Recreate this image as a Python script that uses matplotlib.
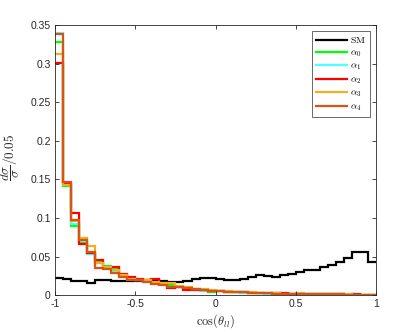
import matplotlib
matplotlib.use('Agg')
import matplotlib.pyplot as plt
import numpy as np

# histogram bins of cos(theta_ll), width 0.05
bin_edges = np.linspace(-1, 1, 41)

sm = [0.0224, 0.0207, 0.0180, 0.0178, 0.0160, 0.0198, 0.0190, 0.0185, 0.0178, 0.0180,
      0.0185, 0.0195, 0.0200, 0.0187, 0.0174, 0.0174, 0.0187, 0.0213, 0.0220, 0.0220,
      0.0213, 0.0200, 0.0196, 0.0213, 0.0235, 0.0257, 0.0248, 0.0230, 0.0260, 0.0270,
      0.0300, 0.0320, 0.0326, 0.0360, 0.0387, 0.0435, 0.0478, 0.0557, 0.0565, 0.0430]

alpha0 = [0.328, 0.142, 0.090, 0.069, 0.053, 0.044, 0.038, 0.035, 0.026, 0.021,
          0.020, 0.018, 0.016, 0.015, 0.013, 0.011, 0.008, 0.0075, 0.006, 0.0035,
          0.005, 0.004, 0.0045, 0.003, 0.003, 0.0025, 0.002, 0.003, 0.002, 0.0015,
          0.002, 0.0015, 0.0012, 0.0015, 0.001, 0.0012, 0.0008, 0.0006, 0.0004, 0.0006]

alpha1 = [0.339, 0.143, 0.092, 0.070, 0.053, 0.041, 0.036, 0.031, 0.028, 0.022,
          0.019, 0.018, 0.015, 0.014, 0.010, 0.010, 0.008, 0.007, 0.006, 0.005,
          0.005, 0.0045, 0.0035, 0.003, 0.0025, 0.003, 0.002, 0.0025, 0.002, 0.0018,
          0.0015, 0.002, 0.0012, 0.001, 0.0012, 0.001, 0.0008, 0.0007, 0.0005, 0.0004]

alpha2 = [0.301, 0.145, 0.107, 0.066, 0.055, 0.046, 0.037, 0.036, 0.027, 0.023,
          0.021, 0.020, 0.021, 0.016, 0.009, 0.010, 0.0065, 0.007, 0.0065, 0.006,
          0.005, 0.004, 0.004, 0.0035, 0.003, 0.003, 0.0025, 0.0022, 0.0025, 0.002,
          0.002, 0.0015, 0.0015, 0.0012, 0.0015, 0.001, 0.0008, 0.001, 0.0005, 0.0004]

alpha3 = [0.312, 0.143, 0.096, 0.074, 0.064, 0.041, 0.036, 0.033, 0.026, 0.021,
          0.020, 0.019, 0.017, 0.016, 0.0155, 0.012, 0.0107, 0.0086, 0.008, 0.007,
          0.006, 0.005, 0.0045, 0.004, 0.0035, 0.003, 0.0028, 0.0025, 0.002, 0.002,
          0.0022, 0.0018, 0.0015, 0.0015, 0.0012, 0.001, 0.001, 0.0008, 0.0006, 0.0005]

alpha4 = [0.338, 0.147, 0.097, 0.0715, 0.0565, 0.035, 0.0345, 0.029, 0.024, 0.020,
          0.019, 0.017, 0.014, 0.013, 0.011, 0.010, 0.009, 0.0075, 0.0065, 0.0055,
          0.005, 0.0045, 0.004, 0.0035, 0.003, 0.0028, 0.0025, 0.002, 0.002, 0.0018,
          0.0015, 0.0015, 0.0012, 0.0012, 0.001, 0.001, 0.0008, 0.0006, 0.0005, 0.0004]

series = [
    (sm, r'$\mathrm{SM}$', 'black'),
    (alpha0, r'$\alpha_0$', '#00ff00'),
    (alpha1, r'$\alpha_1$', '#4dffff'),
    (alpha2, r'$\alpha_2$', '#ff0000'),
    (alpha3, r'$\alpha_3$', '#edb120'),
    (alpha4, r'$\alpha_4$', '#d95319'),
]

plt.rcParams['font.family'] = ['Liberation Sans', 'DejaVu Sans']
plt.rcParams['mathtext.fontset'] = 'cm'

fig = plt.figure(figsize=(4.15, 3.32), dpi=100)
ax = fig.add_axes([0.1325, 0.111, 0.774, 0.814])

for values, label, color in series:
    ax.stairs(values, bin_edges, baseline=None, color=color, linewidth=1.6, label=label)

ax.set_xlim(-1, 1)
ax.set_ylim(0, 0.35)
ax.set_xticks([-1, -0.5, 0, 0.5, 1])
ax.set_xticklabels(['-1', '-0.5', '0', '0.5', '1'])
ax.set_yticks(np.arange(0, 0.36, 0.05))
ax.set_yticklabels(['0', '0.05', '0.1', '0.15', '0.2', '0.25', '0.3', '0.35'])
ax.tick_params(direction='in', top=True, right=True, length=3, width=0.6,
               labelsize=7.5, colors='#262626', pad=3)
for spine in ax.spines.values():
    spine.set_color('#262626')
    spine.set_linewidth(0.6)

ax.set_xlabel(r'$\cos(\theta_{ll})$', fontsize=9, color='#262626', labelpad=2)
ax.set_ylabel(r'$\dfrac{d\sigma}{\sigma}/0.05$', fontsize=9.5, color='#262626', labelpad=3)
ax.yaxis.set_label_coords(-0.105, 0.51)

leg = ax.legend(loc='upper right', fontsize=7, frameon=True, fancybox=False,
                edgecolor='#262626', handlelength=3.2, handletextpad=0.3,
                labelspacing=0.2, borderpad=0.45, borderaxespad=0.6)
leg.get_frame().set_linewidth(0.6)

fig.savefig('out.png', dpi=100)
